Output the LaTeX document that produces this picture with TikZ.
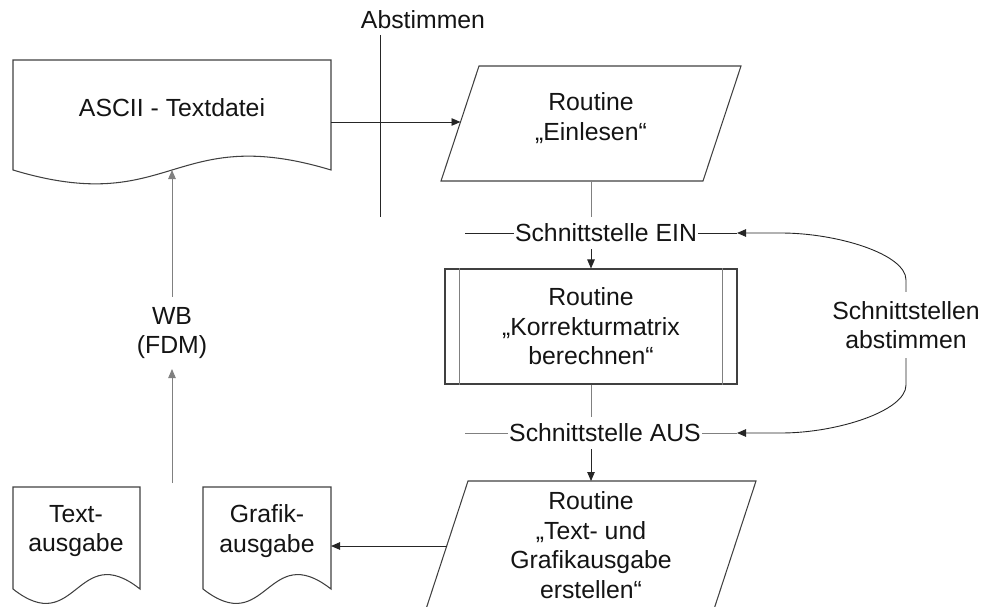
\documentclass[tikz,border=0pt]{standalone}
\usepackage{fontspec}
\setmainfont{Liberation Sans}
\usetikzlibrary{arrows.meta,calc}

% document symbol: left x, right x, top y, bottom y, wave depth
\newcommand\wavedoc[5]{%
  \draw[outline] (#1,#4) -- (#1,#3) -- (#2,#3) -- (#2,#4)
    .. controls ({(#1+#2)/2},{#4-#5}) and ({(#1+#2)/2},{#4+#5}) .. cycle;}

\begin{document}
\begin{tikzpicture}[x=1pt,y=-1pt,
  txt/.style={font=\fontsize{24.8}{29.5}\selectfont, text=black!92, align=center, inner sep=1pt},
  outline/.style={draw=black!75, line width=1.05pt, line join=miter},
  strong/.style={draw=black!85, line width=0.9pt},
  faint/.style={draw=black!50, line width=0.9pt},
  tip/.style={-{Triangle[length=9pt,width=7.5pt]}},
]
\useasboundingbox (0,0) rectangle (982,607);

% ---- shapes -------------------------------------------------------
\wavedoc{13}{331}{60}{170}{48}
\wavedoc{13}{140}{487}{589}{50}
\wavedoc{203}{331}{487}{589}{50}

% input routine (parallelogram)
\draw[outline] (479,66) -- (741,66) -- (703,181) -- (441,181) -- cycle;
% output routine (parallelogram, runs past the lower edge)
\draw[outline] (468,481) -- (756,481) -- (713.4,611) -- (425.4,611) -- cycle;

% predefined process
\node[outline, txt, minimum width=292pt, minimum height=115pt, inner sep=0pt]
  (korr) at (591,326.5) {Routine\\„Korrekturmatrix\\berechnen“};
\draw[faint] ([xshift=15pt]korr.north west) -- ([xshift=15pt]korr.south west);
\draw[faint] ([xshift=-15pt]korr.north east) -- ([xshift=-15pt]korr.south east);

% ---- connection points -------------------------------------------
\coordinate (asciiR) at (331,122);
\coordinate (einlL)  at (460.5,122);
\coordinate (einlB)  at (591,181);
\coordinate (asciiB) at (172,170);
\coordinate (wbfoot) at (172,483);
\coordinate (abstT)  at (380,35);
\coordinate (abstB)  at (380,217);
\coordinate (einL)   at (465,233);
\coordinate (einR)   at (737,233);
\coordinate (ausL)   at (465,433);
\coordinate (ausR)   at (737,433);
\coordinate (ausgT)  at (591,481);
\coordinate (ausgL)  at (446.7,546);
\coordinate (grafR)  at (331,546);

% ---- labels -------------------------------------------------------
\node[txt] (ascii)   at (172,108) {ASCII - Textdatei};
\node[txt] (einl)    at (591,118) {Routine\\„Einlesen“};
\node[txt] (ausg)    at (591,545) {Routine\\„Text- und\\Grafikausgabe\\erstellen“};
\node[txt] (textout) at (76,531)  {Text-\\ausgabe};
\node[txt] (graf)    at (267,531) {Grafik-\\ausgabe};
\node[txt] (abst)    at (423,20)  {Abstimmen};
\node[txt, inner ysep=10pt] (wb)  at (172,333) {WB\\(FDM)};
\node[txt, inner ysep=9pt]  (sab) at (906,325) {Schnittstellen\\abstimmen};

% interface lines with their labels on top
\draw[strong] (einL) -- (einR);
\draw[faint]  (ausL) -- (ausR);
\node[txt, fill=white, inner xsep=1pt, inner ysep=7pt] (ein) at (606,233) {Schnittstelle EIN};
\node[txt, fill=white, inner xsep=1pt, inner ysep=7pt] (aus) at (605,433) {Schnittstelle AUS};

% ---- connectors ---------------------------------------------------
\draw[strong, tip] (asciiR) -- (einlL);
\draw[strong] (abstT) -- (abstB);

\draw[faint] (einlB) -- (einlB |- ein.north);
\draw[strong, tip] (einlB |- ein.south) -- (korr.north);
\draw[faint] (korr.south) -- (korr.south |- aus.north);
\draw[strong, tip] (korr.south |- aus.south) -- (ausgT);

\draw[strong, tip] (ausgL) -- (grafR);

\draw[faint, tip] (wbfoot) -- (wb.south);
\draw[faint, tip] (wb.north) -- (asciiB);

\draw[strong, tip] (sab.north) -- (906,280)
  .. controls (906,254) and (837,233) .. (781,233) -- (einR);
\draw[strong, tip] (sab.south) -- (906,385)
  .. controls (906,411) and (837,433) .. (781,433) -- (ausR);
\end{tikzpicture}
\end{document}
